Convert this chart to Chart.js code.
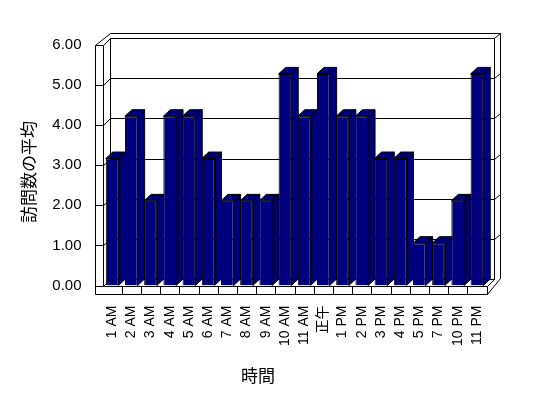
<!DOCTYPE html>
<html>
<head>
<meta charset="utf-8">
<script src="https://cdn.jsdelivr.net/npm/chart.js@4"></script>
<style>
	body { margin: 0; background: #fff; }
</style>
</head>
<body>
<canvas id="visit-chart" width="548" height="398"></canvas>
<script>
var hourList = ['1 AM', '2 AM', '3 AM', '4 AM', '5 AM', '6 AM', '7 AM', '8 AM', '9 AM', '10 AM',
	'11 AM', '正午', '1 PM', '2 PM', '3 PM', '4 PM', '5 PM', '7 PM', '10 PM', '11 PM'];
var visitAvgList = [3, 4, 2, 4, 4, 3, 2, 2, 2, 5, 4, 5, 4, 4, 3, 3, 1, 1, 2, 5];
var yTickList = [0, 1, 2, 3, 4, 5, 6];

var yTitle = '訪問数の平均';
var xTitle = '時間';

// depth of the fake 3d box (back wall sits up and to the right)
var DX = 7;
var DY = -6.5;

function crisp(v) {
	return Math.round(v) + 0.5;
}

function line(ctx, x1, y1, x2, y2) {
	ctx.beginPath();
	ctx.moveTo(crisp(x1), crisp(y1));
	ctx.lineTo(crisp(x2), crisp(y2));
	ctx.stroke();
}

function poly(ctx, pts, fill) {
	ctx.beginPath();
	ctx.moveTo(pts[0][0], pts[0][1]);
	for (var i = 1; i < pts.length; i++) ctx.lineTo(pts[i][0], pts[i][1]);
	ctx.closePath();
	ctx.fillStyle = fill;
	ctx.fill();
	ctx.stroke();
}

function checker(ctx) {
	var c = document.createElement('canvas');
	c.width = 2;
	c.height = 2;
	var g = c.getContext('2d');
	g.fillStyle = '#000';
	g.fillRect(0, 0, 2, 2);
	g.fillStyle = '#000080';
	g.fillRect(0, 0, 1, 1);
	g.fillRect(1, 1, 1, 1);
	return ctx.createPattern(c, 'repeat');
}

var box3d = {
	id: 'box3d',
	beforeDatasetsDraw: function(chart) {
		var ctx = chart.ctx;
		var a = chart.chartArea;
		var ys = chart.scales.y;
		var L = a.left, R = a.right, T = a.top, B = a.bottom;
		var n = hourList.length;
		var cw = (R - L) / n;

		ctx.save();
		ctx.strokeStyle = '#000';
		ctx.lineWidth = 1;

		// back wall gridlines + left / right wall ticks
		yTickList.forEach(function(v) {
			var yf = ys.getPixelForValue(v);
			if (v > 0 && v < 6) line(ctx, L + DX, yf + DY, R + DX, yf + DY);
			line(ctx, L - 8, yf, L, yf);
			line(ctx, L, yf, L + DX, yf + DY);
			if (v > 0) line(ctx, R + DX, yf + DY, R + DX + 6.5, yf + DY - 5);
		});

		// back wall frame
		line(ctx, L + DX, T + DY, R + DX, T + DY);
		line(ctx, L + DX, T + DY, L + DX, B + DY);
		line(ctx, R + DX, T + DY, R + DX, B + DY);
		line(ctx, L + DX, B + DY, R + DX, B + DY);
		// outer edge of walls
		line(ctx, L - 8, T, L + DX, T + DY - 5);
		line(ctx, L + DX, T + DY - 5, R + DX + 6.5, T + DY - 5);
		line(ctx, R + DX + 6.5, T + DY - 5, R + DX + 6.5, B + DY - 1);
		line(ctx, L - 8, T, L - 8, B + 8.5);
		line(ctx, L, T, L, B);
		// floor
		line(ctx, L, B, R, B);
		line(ctx, L - 8, B + 8.5, R, B + 8.5);
		line(ctx, R, B, R, B + 8.5);
		line(ctx, R, B, R + DX, B + DY);
		line(ctx, R, B + 8.5, R + DX + 6.5, B + DY - 1);
		for (var i = 1; i < n; i++) line(ctx, L + i * cw, B, L + i * cw, B + 8.5);

		// bar depth: side and top faces behind the front faces
		var pat = checker(ctx);
		chart.getDatasetMeta(0).data.forEach(function(el) {
			var l = el.x - el.width / 2, r = el.x + el.width / 2;
			var t = el.y, b = el.base;
			poly(ctx, [[r, t], [r + DX, t + DY], [r + DX, b + DY], [r, b]], pat);
			poly(ctx, [[l, t], [l + DX, t + DY], [r + DX, t + DY], [r, t]], pat);
		});
		ctx.restore();
	},
	afterDraw: function(chart) {
		var ctx = chart.ctx;
		ctx.save();
		ctx.fillStyle = '#000';
		ctx.font = '17px "Noto Sans CJK JP"';
		ctx.textAlign = 'center';
		ctx.textBaseline = 'middle';
		ctx.fillText(xTitle, 258, 376);
		ctx.translate(29, 172);
		ctx.rotate(-Math.PI / 2);
		ctx.fillText(yTitle, 0, 0);
		ctx.restore();
	}
};

const ctx = document.getElementById('visit-chart').getContext('2d');
const visitChart = new Chart(ctx, {
	type: 'bar',
	data: {
		labels: hourList,
		datasets: [
			{
				label: yTitle,
				data: visitAvgList,
				yAxisID: 'yb',
				backgroundColor: '#000080',
				borderColor: '#000',
				borderWidth: 1,
				barPercentage: 0.66,
				categoryPercentage: 1
			}
		]
	},
	options: {
		responsive: false,
		animation: false,
		layout: {
			padding: { left: 0, top: 44.7, right: 61.5, bottom: 0 }
		},
		plugins: {
			legend: { display: false },
			tooltip: { enabled: false }
		},
		scales: {
			x: {
				grid: { display: false, drawTicks: false },
				border: { display: false },
				ticks: {
					autoSkip: false,
					minRotation: 90,
					maxRotation: 90,
					padding: 20,
					color: '#000',
					font: { family: '"Liberation Sans", "Noto Sans CJK JP"', size: 14 }
				},
				afterFit: function(scale) { scale.height = 112.5; }
			},
			y: {
				position: 'left',
				min: 0,
				max: 6,
				grid: { display: false, drawTicks: false },
				border: { display: false },
				ticks: {
					stepSize: 1,
					padding: 21,
					color: '#000',
					font: { family: '"Liberation Sans"', size: 15 },
					callback: function(v) { return v.toFixed(2); }
				},
				afterFit: function(scale) { scale.width = 102.5; }
			},
			// bar fronts sit slightly higher than the front axis (3d perspective)
			yb: {
				display: false,
				min: 0,
				max: 5.69
			}
		}
	},
	plugins: [box3d]
});
</script>
</body>
</html>
